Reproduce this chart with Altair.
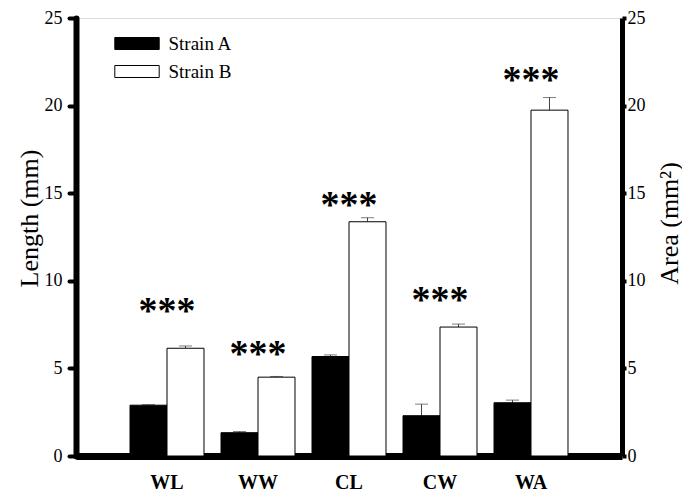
import altair as alt
import pandas as pd

categories = ["WL", "WW", "CL", "CW", "WA"]
strains = ["Strain A", "Strain B"]
strain_a = [2.90, 1.33, 5.68, 2.30, 3.04]
strain_a_err = [0.03, 0.07, 0.09, 0.66, 0.15]
strain_b = [6.15, 4.50, 13.37, 7.36, 19.74]
strain_b_err = [0.13, 0.04, 0.23, 0.17, 0.72]
star_pos = [8.6, 6.15, 14.66, 9.25, 21.8]
star_text = ["***"] * 5
y_ticks = [0, 5, 10, 15, 20, 25]

rows = []
for i, c in enumerate(categories):
    rows.append({"cat": c, "strain": strains[0], "value": strain_a[i],
                 "upper": strain_a[i] + strain_a_err[i]})
    rows.append({"cat": c, "strain": strains[1], "value": strain_b[i],
                 "upper": strain_b[i] + strain_b_err[i]})
df = pd.DataFrame(rows)
stars = pd.DataFrame({"cat": categories, "pos": star_pos, "txt": star_text})

FONT = "Liberation Serif"
W, H = 546, 438

xenc = alt.X("cat:N", sort=categories,
             scale=alt.Scale(paddingOuter=0.5, paddingInner=0),
             axis=alt.Axis(title=None, labelAngle=0, ticks=False, domainWidth=7,
                           domainColor="black", labelFont=FONT, labelFontSize=20,
                           labelFontWeight="bold", labelColor="black",
                           labelPadding=16))
xoff = alt.XOffset("strain:N", sort=strains,
                   scale=alt.Scale(paddingOuter=0.23, paddingInner=0))
yscale = alt.Scale(domain=[0, 25], nice=False)

yleft = alt.Y("value:Q", scale=yscale,
              axis=alt.Axis(title="Length (mm)", values=y_ticks, grid=False,
                            domainWidth=6, domainColor="black", domainCap="round",
                            tickWidth=4, tickSize=7, tickColor="black", tickCap="round",
                            labelFont=FONT, labelFontSize=18, labelColor="black",
                            labelPadding=7, titleFont=FONT, titleFontSize=26,
                            titleFontWeight="normal", titleColor="black",
                            titleAngle=270, titleBaseline="alphabetic",
                            titleX=-39, titleY=200))

base = alt.Chart(df)

err = base.mark_rule(color="#444", strokeWidth=1).encode(
    x=xenc, xOffset=xoff, y=alt.Y("value:Q", scale=yscale), y2="upper:Q")
cap = base.mark_tick(color="#444", thickness=1, size=13).encode(
    x=xenc, xOffset=xoff, y=alt.Y("upper:Q", scale=yscale))
bars = base.mark_bar(stroke="black", strokeWidth=1).encode(
    x=xenc, xOffset=xoff, y=yleft,
    fill=alt.Fill("strain:N", sort=strains,
                  scale=alt.Scale(domain=strains, range=["black", "white"]),
                  legend=alt.Legend(title=None, orient="none", legendX=51.5, legendY=16,
                                    symbolType="M-3.7,-1H3.7V1H-3.7Z", symbolSize=144,
                                    symbolStrokeColor="black", symbolStrokeWidth=1,
                                    labelFont=FONT, labelFontSize=19, labelColor="black",
                                    labelOffset=22, rowPadding=8, padding=0)))

left_layer = alt.layer(err, cap, bars)

star_layer = alt.Chart(stars).mark_text(font=FONT, fontSize=38, fontWeight="bold",
                                        color="black", baseline="alphabetic", dy=18).encode(
    x=alt.X("cat:N", sort=categories, scale=alt.Scale(paddingOuter=0.5, paddingInner=0)),
    y=alt.Y("pos:Q", scale=yscale,
            axis=alt.Axis(orient="right", title="Area (mm\u00b2)", values=y_ticks, grid=False,
                          domainWidth=5, domainColor="black",
                          tickWidth=4, tickSize=4, tickColor="black",
                          labelFont=FONT, labelFontSize=18, labelColor="black",
                          labelPadding=1, titleFont=FONT, titleFontSize=26,
                          titleFontWeight="normal", titleColor="black",
                          titleAngle=270, titleBaseline="alphabetic",
                          titleX=55, titleY=205)),
    text="txt:N")

chart = alt.layer(left_layer, star_layer).resolve_scale(y="independent").properties(
    width=W, height=H,
    autosize=alt.AutoSizeParams(type="none"),
    padding={"left": 68, "top": 10, "right": 60, "bottom": 38},
).configure_view(stroke=None).configure(font=FONT, background="white")

chart.save("out.html", embed_options={"renderer": "svg", "actions": False})
